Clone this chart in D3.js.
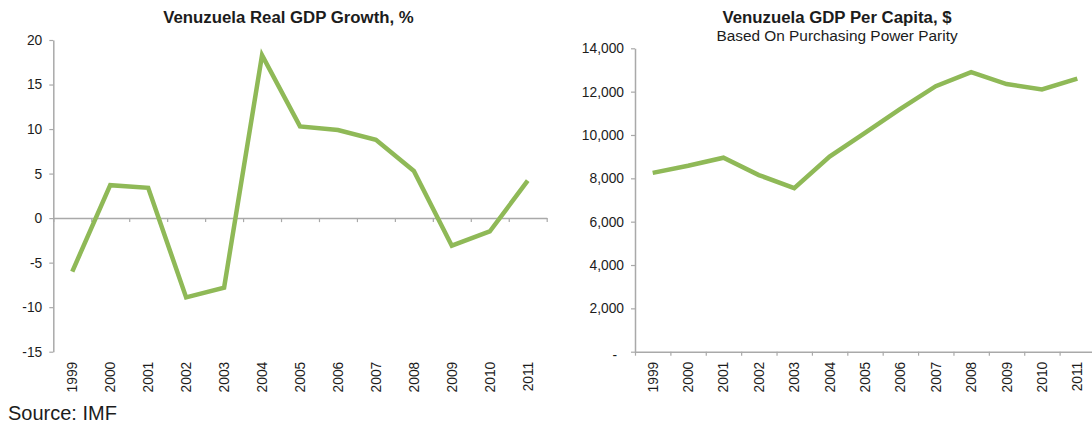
<!DOCTYPE html>
<html>
<head>
<meta charset="utf-8">
<script src="https://cdn.jsdelivr.net/npm/d3@7"></script>
<style>
	body { margin: 0; background: #fff; }
	svg text { font-family: "Liberation Sans", Arial, sans-serif; fill: #1c1c1c; }
</style>
</head>
<body>
<div id="chart"></div>
<script>
'use strict';

// ---------------   Data   ---------------- //

const years       = ["1999", "2000", "2001", "2002", "2003", "2004", "2005", "2006", "2007", "2008", "2009", "2010", "2011"];
const growth      = [-6.0, 3.7, 3.4, -8.9, -7.8, 18.3, 10.3, 9.9, 8.8, 5.3, -3.1, -1.5, 4.2];
const gdpCapita   = [8250, 8580, 8950, 8150, 7550, 9000, 10100, 11200, 12250, 12900, 12350, 12100, 12600];
const growthTicks = [-15, -10, -5, 0, 5, 10, 15, 20];
const capitaTicks = [0, 2000, 4000, 6000, 8000, 10000, 12000, 14000];

const GREEN = "#8fb957";
const GREY  = "#a9a9a9";


const drawPanel = (svg, opts) =>
{
	const x = d3.scaleBand().domain(years).range([opts.x0, opts.x1]);
	const y = d3.scaleLinear().domain(opts.domain).range([351.7, opts.top]);
	const edges = d3.scaleLinear().domain([0, years.length]).range([opts.x0, opts.x1]);

	// y axis
	const yAxis = svg.append("g")
		.attr("transform", "translate(" + opts.x0 + ",0)")
		.call(d3.axisLeft(y).tickValues(opts.ticks).tickSize(4).tickSizeOuter(0).tickPadding(7).tickFormat(opts.format));
	yAxis.select(".domain").attr("stroke", GREY).attr("stroke-width", 1.5);
	yAxis.selectAll(".tick line").attr("stroke", GREY).attr("stroke-width", 1.2);
	yAxis.selectAll("text").style("font-size", "13.8px").attr("fill", "#1c1c1c");
	if (opts.dashZero) yAxis.selectAll(".tick text").filter(d => d === 0).attr("dx", -7).attr("dy", "0.55em");

	// category axis at value zero, ticks on band edges
	const y0 = y(0);
	const xEdges = svg.append("g")
		.attr("transform", "translate(0," + y0 + ")")
		.call(d3.axisBottom(edges).tickValues(d3.range(years.length + 1)).tickSize(4).tickSizeOuter(0).tickFormat(""));
	xEdges.select(".domain").attr("stroke", GREY).attr("stroke-width", 1.5);
	xEdges.selectAll(".tick line").attr("stroke", GREY).attr("stroke-width", 1.2);

	// year labels below the plot
	const xLabels = svg.append("g")
		.attr("transform", "translate(0,351.7)")
		.call(d3.axisBottom(x).tickSize(0).tickPadding(0));
	xLabels.select(".domain").remove();
	xLabels.selectAll("text")
		.style("font-size", "13.8px")
		.style("text-anchor", "end")
		.attr("fill", "#1c1c1c")
		.attr("transform", "rotate(-90)")
		.attr("x", -10)
		.attr("y", 0)
		.attr("dx", 0)
		.attr("dy", "0.36em");

	// line
	const line = d3.line()
		.x((d, i) => x(years[i]) + x.bandwidth() / 2)
		.y(d => y(d));

	svg.append("path")
		.datum(opts.values)
		.attr("d", line)
		.attr("fill", "none")
		.attr("stroke", GREEN)
		.attr("stroke-width", 4.5)
		.attr("stroke-linejoin", "miter");

	// titles
	svg.append("text")
		.attr("x", opts.titleX)
		.attr("y", 22.5)
		.attr("text-anchor", "middle")
		.style("font-size", "16.8px")
		.style("font-weight", "bold")
		.attr("fill", "#111")
		.text(opts.title);

	if (opts.subtitle)
		svg.append("text")
			.attr("x", opts.titleX)
			.attr("y", 41)
			.attr("text-anchor", "middle")
			.style("font-size", "15.4px")
			.attr("fill", "#1c1c1c")
			.text(opts.subtitle);
};


const drawChart = () =>
{
	const svg = d3.select("#chart")
		.append("svg")
		.attr("width", 1092)
		.attr("height", 424);

	drawPanel(svg, {
		x0: 53.3, x1: 546.7, top: 40,
		domain: [-15, 20],
		ticks: growthTicks,
		format: d => String(d),
		values: growth,
		title: "Venuzuela Real GDP Growth, %",
		titleX: 288.5
	});

	drawPanel(svg, {
		x0: 635, x1: 1095, top: 48.3,
		domain: [0, 14000],
		ticks: capitaTicks,
		format: d => d === 0 ? "-" : d3.format(",")(d),
		dashZero: true,
		values: gdpCapita,
		title: "Venuzuela GDP Per Capita, $",
		subtitle: "Based On Purchasing Power Parity",
		titleX: 837
	});

	svg.append("text")
		.attr("x", 8)
		.attr("y", 420)
		.style("font-size", "20px")
		.attr("fill", "#111")
		.text("Source: IMF");
};


document.addEventListener("DOMContentLoaded", () =>
{
	drawChart();
}, false);
</script>
</body>
</html>
